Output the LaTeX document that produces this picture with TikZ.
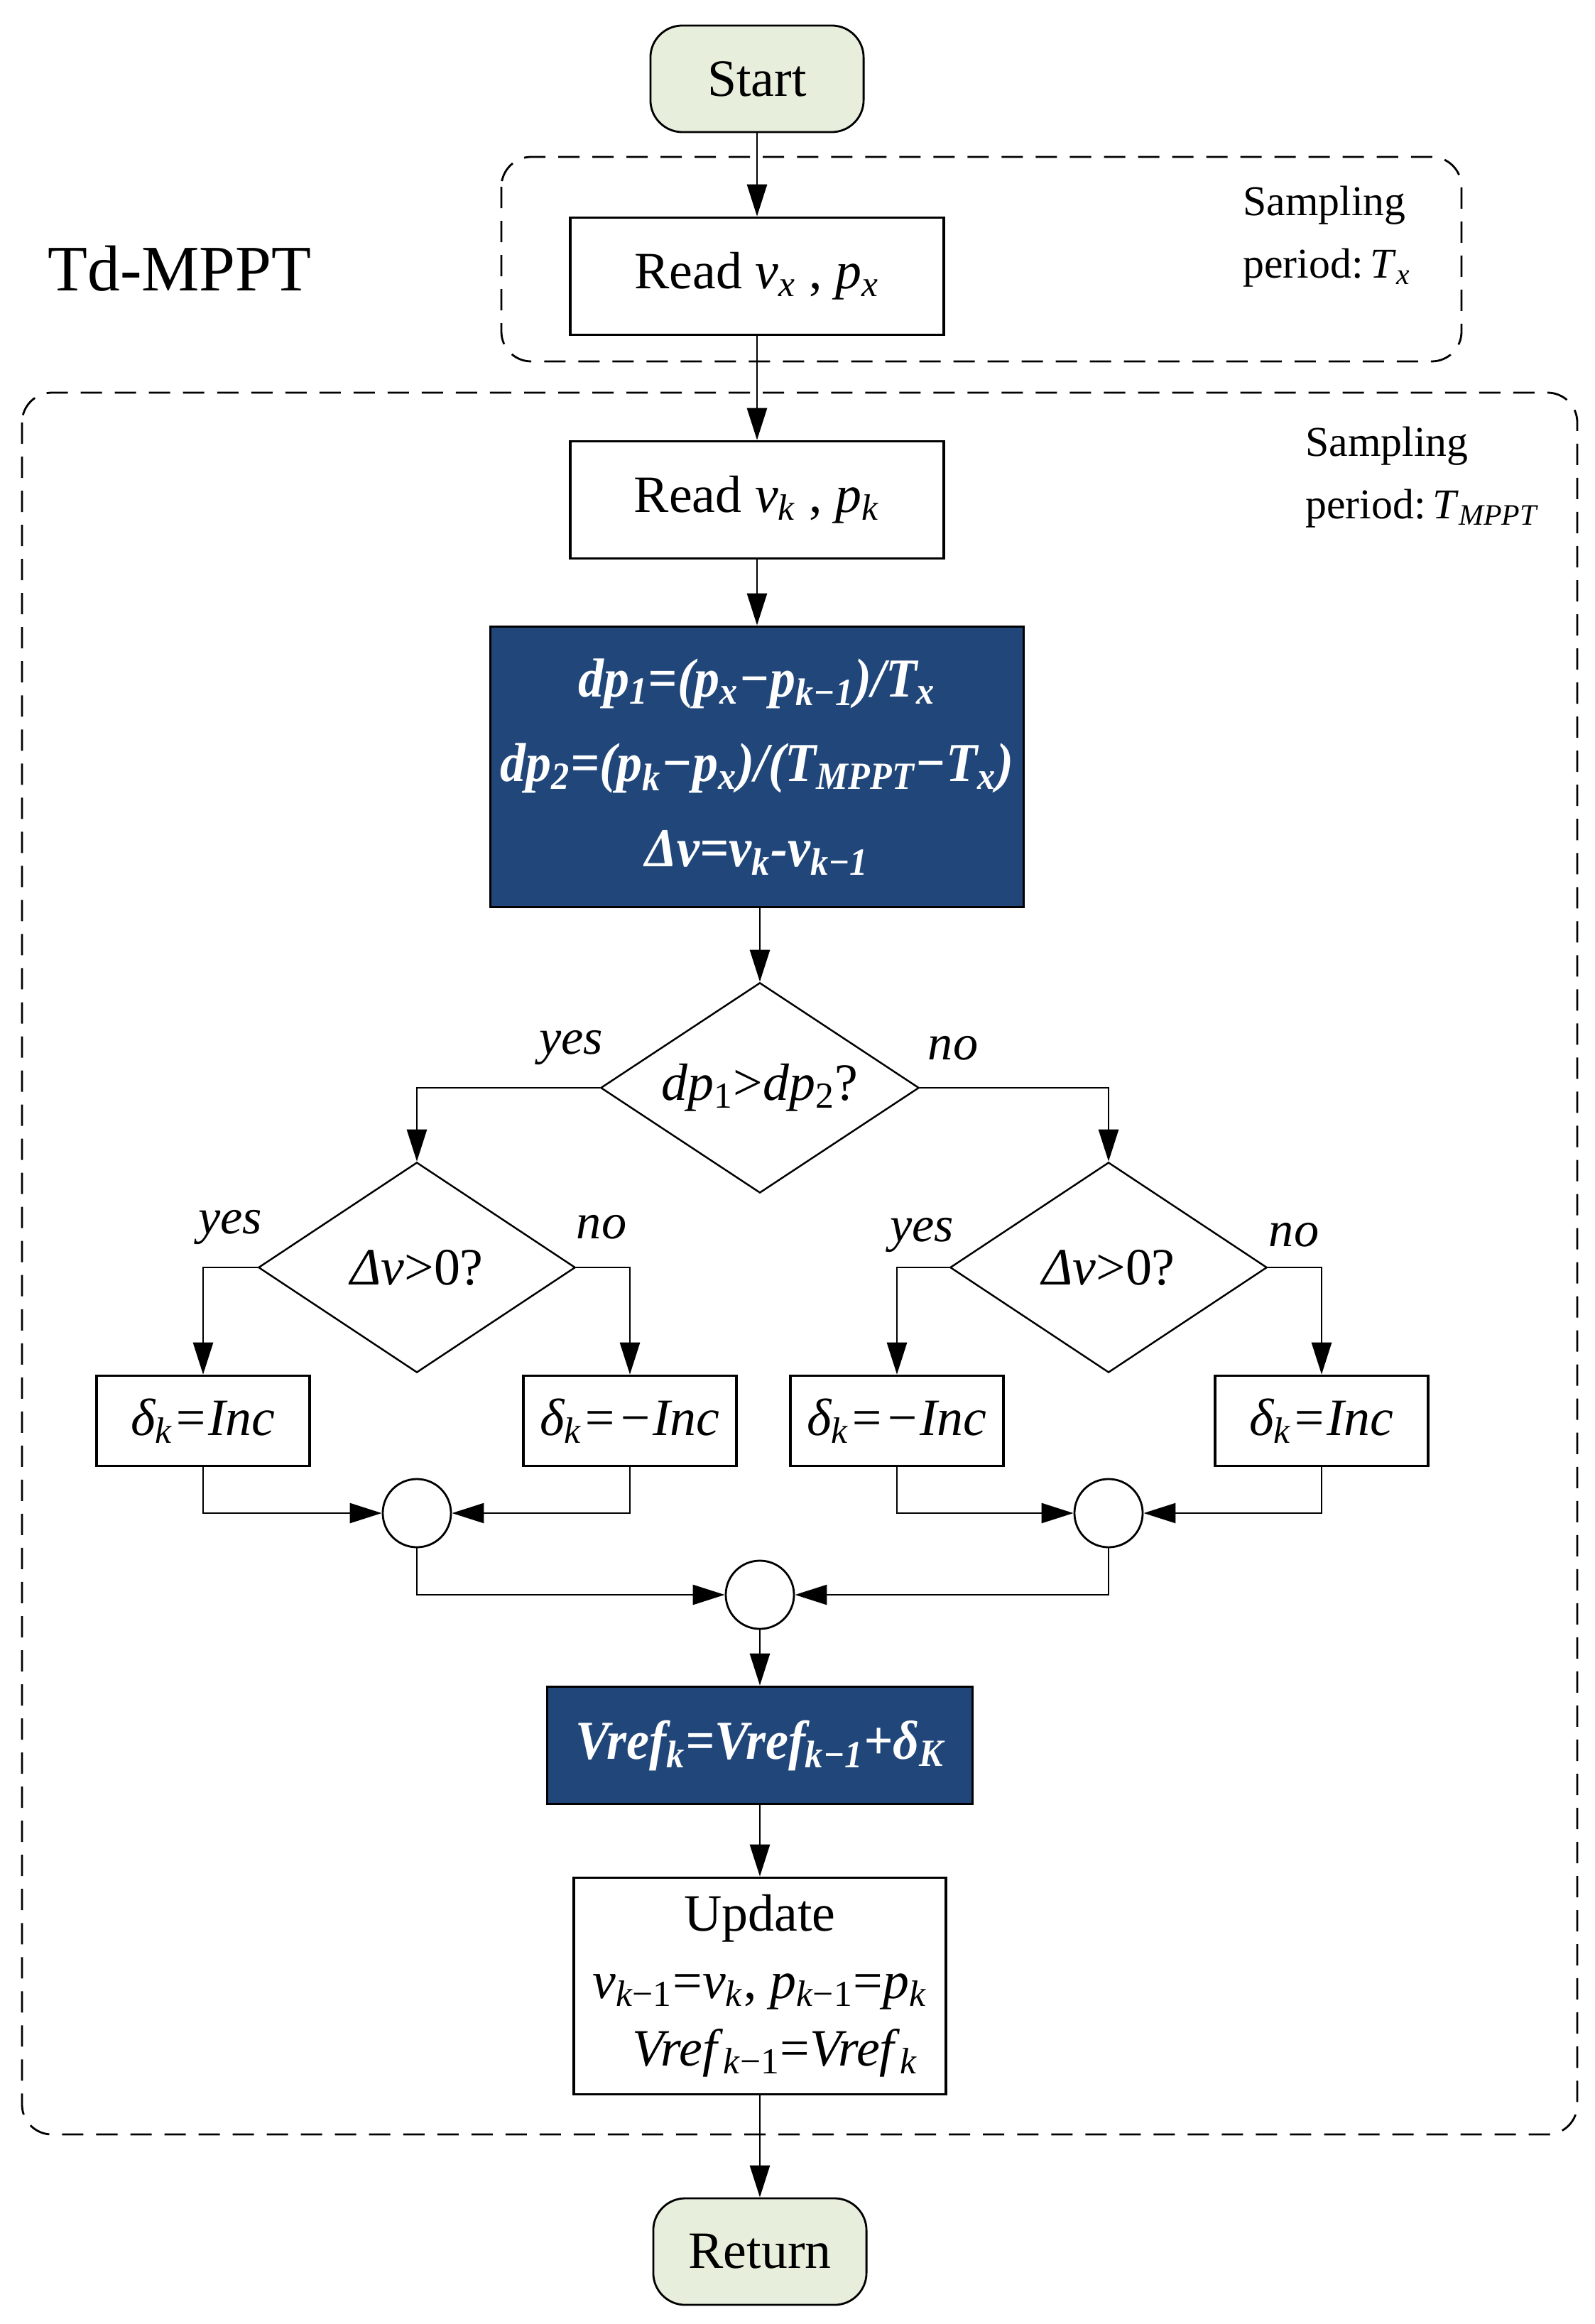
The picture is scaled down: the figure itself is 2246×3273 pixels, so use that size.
\documentclass[tikz,border=0pt]{standalone}
\usepackage{fontspec}
\setmainfont{Liberation Serif}
\newfontfamily\bluefont[FakeStretch=0.93]{Liberation Serif}
\usetikzlibrary{arrows.meta,shapes.geometric}
\definecolor{ProcessBlue}{RGB}{33,71,122}
\definecolor{TerminalFill}{RGB}{232,238,220}
\newcommand{\sbs}[1]{\textsubscript{#1}}
\newcommand{\vi}[1]{\textit{#1}}

\tikzset{
  terminal/.style={draw, line width=0.8pt, fill=TerminalFill, rounded corners=0.45cm,
    minimum width=3cm, minimum height=1.5cm, font=\fontsize{21}{25}\selectfont},
  process/.style={draw, line width=1pt, minimum width=5.26cm, minimum height=1.65cm,
    font=\fontsize{21}{27}\selectfont, align=center},
  bluebox/.style={draw, line width=1pt, fill=ProcessBlue, text=white, align=center,
    inner xsep=2pt, font=\bluefont\fontsize{22}{34}\selectfont\bfseries\itshape},
  decision/.style={draw, diamond, aspect=1.5, line width=0.7pt, inner sep=0pt,
    minimum width=4.48cm, minimum height=2.96cm, font=\fontsize{21}{25}\selectfont},
  incbox/.style={draw, line width=1pt, minimum width=3cm, minimum height=1.27cm,
    font=\fontsize{21}{25}\selectfont\itshape},
  junction/.style={draw, circle, line width=0.8pt, minimum size=0.96cm, inner sep=0pt},
  branch/.style={font=\fontsize{20}{24}\selectfont\itshape},
  flow/.style={line width=0.8pt, -{Triangle[length=0.45cm,width=0.28cm]}},
  period/.style={line width=0.8pt, dash pattern=on 0.3cm off 0.18cm, rounded corners=0.42cm},
  note/.style={align=left, anchor=west, font=\fontsize{17}{25}\selectfont}
}

\begin{document}
\begin{tikzpicture}[x=0.01cm, y=-0.01cm]

    \useasboundingbox (0,0) rectangle (2246,3273);

    % Sampling windows
    \draw[period] (706,221) rectangle (2058,509);
    \draw[period] (31,553) rectangle (2221,3006);

    \node (TdLabel) at (253,378) {\fontsize{26}{30}\selectfont Td-MPPT};
    \node[note] (SampleX) at (1738,333) {Sampling\\period:\,\vi{T}\sbs{\vi{x}}};
    \node[note] (SampleMPPT) at (1826,672) {Sampling\\period:\,\vi{T}\sbs{\vi{MPPT}}};

    \node[terminal] (Start) at (1066,111) {Start};
    \node[process] (ReadX) at (1066,389) {Read \vi{v}\sbs{\vi{x}} , \vi{p}\sbs{\vi{x}}};
    \node[process] (ReadK) at (1066,704) {Read \vi{v}\sbs{\vi{k}} , \vi{p}\sbs{\vi{k}}};
    \node[bluebox, minimum width=7.51cm, minimum height=3.95cm] (Calc) at (1066,1080)
      {dp\sbs{1}=(p\sbs{x}−p\sbs{k−1})/T\sbs{x}\\
       dp\sbs{2}=(p\sbs{k}−p\sbs{x})/(T\sbs{MPPT}−T\sbs{x})\\
       Δv=v\sbs{k}-v\sbs{k−1}};

    \node[decision] (DecMain) at (1070,1532) {\vi{dp}\sbs{1}>\vi{dp}\sbs{2}?};
    \node[decision, minimum width=4.46cm] (DecLeft) at (587,1785) {\vi{Δv}>0?};
    \node[decision, minimum width=4.46cm] (DecRight) at (1561,1785) {\vi{Δv}>0?};

    \node[branch] (YesMain) at (804,1476) {yes};
    \node[branch] (NoMain) at (1342,1476) {no};
    \node[branch] (YesLeft) at (324,1728) {yes};
    \node[branch] (NoLeft) at (847,1728) {no};
    \node[branch] (YesRight) at (1298,1739) {yes};
    \node[branch] (NoRight) at (1822,1739) {no};

    \node[incbox] (IncA) at (286,2001) {δ\sbs{k}=Inc};
    \node[incbox] (DecA) at (887,2001) {δ\sbs{k}=−Inc};
    \node[incbox] (DecB) at (1263,2001) {δ\sbs{k}=−Inc};
    \node[incbox] (IncB) at (1861,2001) {δ\sbs{k}=Inc};

    \node[junction] (JoinL) at (587,2131) {};
    \node[junction] (JoinR) at (1561,2131) {};
    \node[junction] (JoinM) at (1070,2246) {};

    \node[bluebox, minimum width=5.99cm, minimum height=1.65cm] (Vref) at (1070,2458)
      {Vref\sbs{k}=Vref\sbs{k−1}+δ\sbs{K}};
    \node[process, minimum width=5.24cm, minimum height=3.05cm] (Update) at (1070,2797)
      {Update\\
       \vi{v}\sbs{\vi{k}−1}=\vi{v}\sbs{\vi{k}}, \vi{p}\sbs{\vi{k}−1}=\vi{p}\sbs{\vi{k}}\\
       \hspace{0.6em}\vi{Vref}\sbs{\vi{k}−1}=\vi{Vref}\sbs{\vi{k}}};
    \node[terminal] (Return) at (1070,3171) {Return};

    \draw[flow] (Start) -- (ReadX);
    \draw[flow] (ReadX) -- (ReadK);
    \draw[flow] (ReadK) -- (Calc);
    \draw[flow] (Calc.south -| DecMain.north) -- (DecMain.north);

    \draw[flow] (DecMain.west) -| (DecLeft.north);
    \draw[flow] (DecMain.east) -| (DecRight.north);
    \draw[flow] (DecLeft.west) -| (IncA.north);
    \draw[flow] (DecLeft.east) -| (DecA.north);
    \draw[flow] (DecRight.west) -| (DecB.north);
    \draw[flow] (DecRight.east) -| (IncB.north);

    \draw[flow] (IncA.south) |- (JoinL.west);
    \draw[flow] (DecA.south) |- (JoinL.east);
    \draw[flow] (DecB.south) |- (JoinR.west);
    \draw[flow] (IncB.south) |- (JoinR.east);
    \draw[flow] (JoinL.south) |- (JoinM.west);
    \draw[flow] (JoinR.south) |- (JoinM.east);

    \draw[flow] (JoinM) -- (Vref);
    \draw[flow] (Vref) -- (Update);
    \draw[flow] (Update) -- (Return);
\end{tikzpicture}
\end{document}
